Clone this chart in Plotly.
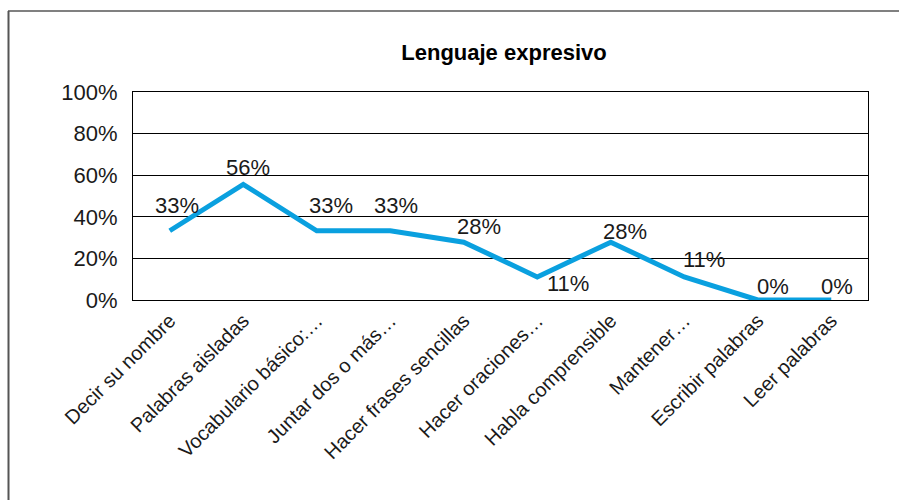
import plotly.graph_objects as go

categories = ["Decir su nombre", "Palabras aisladas", "Vocabulario básico:…",
              "Juntar dos o más…", "Hacer frases sencillas", "Hacer oraciones…",
              "Habla comprensible", "Mantener…", "Escribir palabras", "Leer palabras"]
values = [0.333, 0.556, 0.333, 0.333, 0.278, 0.111, 0.278, 0.111, 0.0, 0.0]
labels = ["33%", "56%", "33%", "33%", "28%", "11%", "28%", "11%", "0%", "0%"]
y_ticks = [0, 0.2, 0.4, 0.6, 0.8, 1.0]
y_ticklabels = ["0%", "20%", "40%", "60%", "80%", "100%"]

# label offsets (pixels) for data labels
label_dx = [7, 5, 14, 6, 15, 31, 14, 20, 15, 6]
label_dy = [25, 17, 25, 25, 16, -7, 11, 17, 14, 14]

W, H = 899, 500
L, R, T, B = 133, 31, 92, 200
FONT = "Liberation Sans"

fig = go.Figure()
fig.add_trace(go.Scatter(
    x=categories, y=values, mode="lines",
    line=dict(color="#0AA0DF", width=5),
    hoverinfo="skip", showlegend=False))

for c, v, t, dx, dy in zip(categories, values, labels, label_dx, label_dy):
    fig.add_annotation(x=c, y=v, text=t, showarrow=False,
                       xshift=dx, yshift=dy,
                       font=dict(family=FONT, size=22, color="#1a1a1a"))

pw = W - L - R
ph = H - T - B
def px(x):
    return (x - L) / pw
def py(y):
    return (H - B - y) / ph

# outer frame (top and left edges)
fig.add_shape(type="line", xref="paper", yref="paper",
              x0=px(8), x1=px(905), y0=py(11), y1=py(11),
              line=dict(color="#808080", width=2))
fig.add_shape(type="line", xref="paper", yref="paper",
              x0=px(8.5), x1=px(8.5), y0=py(11), y1=py(505),
              line=dict(color="#555555", width=2))

fig.update_layout(
    width=W, height=H,
    margin=dict(l=L, r=R, t=T, b=B),
    paper_bgcolor="white", plot_bgcolor="white",
    title=dict(text="<b>Lenguaje expresivo</b>", xref="paper", x=px(504), xanchor="center",
               yref="container", y=1 - 52 / H, yanchor="middle",
               font=dict(family=FONT, size=22, color="#000000")),
    xaxis=dict(type="category", tickangle=-45, showgrid=False,
               range=[-0.5, len(categories) - 0.5],
               showline=True, linecolor="#000000", linewidth=1, mirror=True,
               ticks="", tickfont=dict(family=FONT, size=20, color="#1a1a1a")),
    yaxis=dict(range=[0, 1], tickvals=y_ticks, ticktext=y_ticklabels,
               showgrid=True, gridcolor="#000000", gridwidth=1,
               showline=True, linecolor="#000000", linewidth=1, mirror=True,
               zeroline=False, ticks="", ticklabelstandoff=10,
               tickfont=dict(family=FONT, size=22, color="#1a1a1a")),
)

fig.write_html("out.html")
